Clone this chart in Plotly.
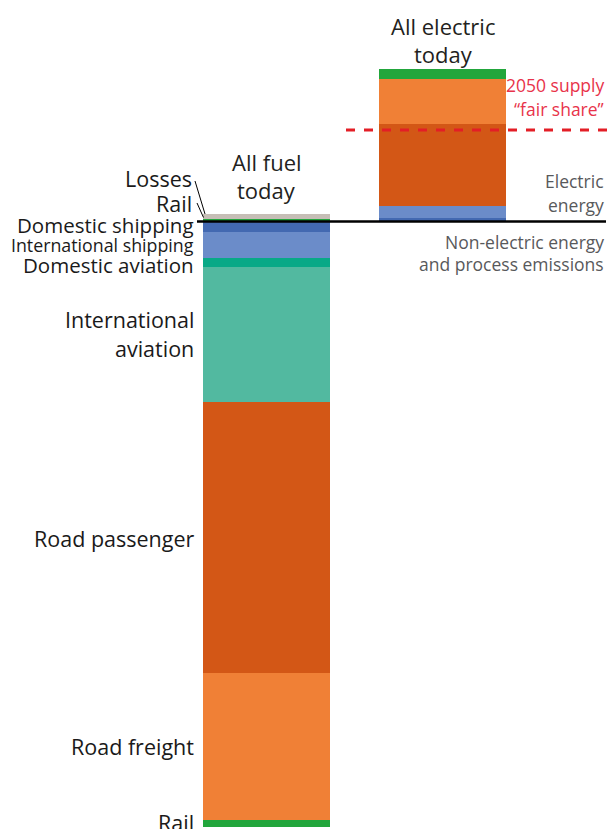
import plotly.graph_objects as go

# ---- data (TWh) ----
categories = ["All fuel today", "All electric today"]

# fuel used today (drawn below the line, as negative values)
sectors_below = ["Domestic shipping", "International shipping", "Domestic aviation",
                 "International aviation", "Road passenger", "Road freight", "Rail"]
fuel_today = [10.5, 26, 9, 134.5, 271.5, 147, 7]

# electric energy today on the left bar (drawn above the line)
elec_today_names = ["Rail", "Losses"]
elec_today = [2.5, 5]

# electricity needed if everything were electric (right bar, bottom to top)
sectors_electric = ["Domestic shipping", "International shipping", "Road passenger",
                    "Road freight", "Rail"]
all_electric = [3.8, 11.7, 82, 45, 10]

fair_share_2050 = 91.5

colors = {
    "Domestic shipping": "#4369b1",
    "International shipping": "#6b8cc9",
    "Domestic aviation": "#08a987",
    "International aviation": "#52b9a0",
    "Road passenger": "#d35716",
    "Road freight": "#f08036",
    "Rail": "#22a63c",
    "Losses": "#c6beb6",
}

W, H = 611, 829
BAR_W = 0.7216
X_RANGE = [-1.5142, 1.9574]
Y_RANGE = [-607.5, 221.5]

fig = go.Figure()

# left bar, above the line
for name, v in zip(elec_today_names, elec_today):
    fig.add_trace(go.Bar(x=[categories[0]], y=[v], name=name, width=BAR_W,
                         marker=dict(color=colors[name], line=dict(width=0)),
                         showlegend=False))
# left bar, below the line
for name, v in zip(sectors_below, fuel_today):
    fig.add_trace(go.Bar(x=[categories[0]], y=[-v], name=name, width=BAR_W,
                         marker=dict(color=colors[name], line=dict(width=0)),
                         showlegend=False))
# right bar
for name, v in zip(sectors_electric, all_electric):
    fig.add_trace(go.Bar(x=[categories[1]], y=[v], name=name, width=BAR_W,
                         marker=dict(color=colors[name], line=dict(width=0)),
                         showlegend=False))

# zero line and the 2050 fair-share line
fig.add_shape(type="line", xref="paper", yref="y", x0=197 / W, x1=606 / W, y0=0, y1=0,
              line=dict(color="black", width=2.5))
fig.add_shape(type="line", xref="paper", yref="y", x0=346 / W, x1=1, y0=fair_share_2050,
              y1=fair_share_2050, line=dict(color="#e31e26", width=3, dash="9px,9px"))

# leader lines for Losses / Rail
def px(x, y):
    return x / W, 1 - y / H

for (xa, ya, xb, yb) in [(195, 181, 205, 214), (197, 203, 203.5, 217.5)]:
    x0, y0 = px(xa, ya)
    x1, y1 = px(xb, yb)
    fig.add_shape(type="line", xref="paper", yref="paper", x0=x0, y0=y0, x1=x1, y1=y1,
                  line=dict(color="black", width=1))

FONT = "Open Sans, Noto Sans, sans-serif"

def label(text, x, y, size=21.5, color="#1a1a1a", anchor="right", family=FONT):
    xp, yp = px(x, y)
    fig.add_annotation(text=text, x=xp, y=yp, xref="paper", yref="paper",
                       xanchor=anchor, yanchor="middle", showarrow=False,
                       font=dict(family=family, size=size, color=color))

# left labels
label("Losses", 194, 178)
label("Rail", 194, 203)
label("Domestic shipping", 196, 225, size=20.5)
label("International shipping", 196, 245, size=17.8)
label("Domestic aviation", 196, 265, size=20.5)
label("International", 196, 319)
label("aviation", 196, 348)
label("Road passenger", 196, 538)
label("Road freight", 196, 746)
label("Rail", 196, 822)

# bar titles
label("All fuel", 266.5, 162, size=22, color="#231f20", anchor="center")
label("today", 266.5, 190, size=22, color="#231f20", anchor="center")
label("All electric", 443, 26, size=22, color="#231f20", anchor="center")
label("today", 443, 54, size=22, color="#231f20", anchor="center")

# right side notes
label("2050 supply", 606, 85, size=17.5, color="#e8334a")
label("\u201cfair share\u201d", 606, 109, size=17.5, color="#e8334a")
label("Electric", 606, 181, size=17.5, color="#58595b")
label("energy", 606, 205, size=17.5, color="#58595b")
label("Non-electric energy", 606, 242, size=17.5, color="#58595b")
label("and process emissions", 606, 264, size=17.5, color="#58595b")

fig.update_layout(
    width=W, height=H, barmode="relative", bargap=0,
    margin=dict(l=0, r=0, t=0, b=0),
    plot_bgcolor="white", paper_bgcolor="white",
    xaxis=dict(type="category", range=X_RANGE, visible=False, fixedrange=True),
    yaxis=dict(range=Y_RANGE, visible=False, fixedrange=True),
    showlegend=False,
)

fig.write_html("out.html", config={"displayModeBar": False},
               post_script="document.body.style.margin='0px';document.body.style.overflow='hidden';")
